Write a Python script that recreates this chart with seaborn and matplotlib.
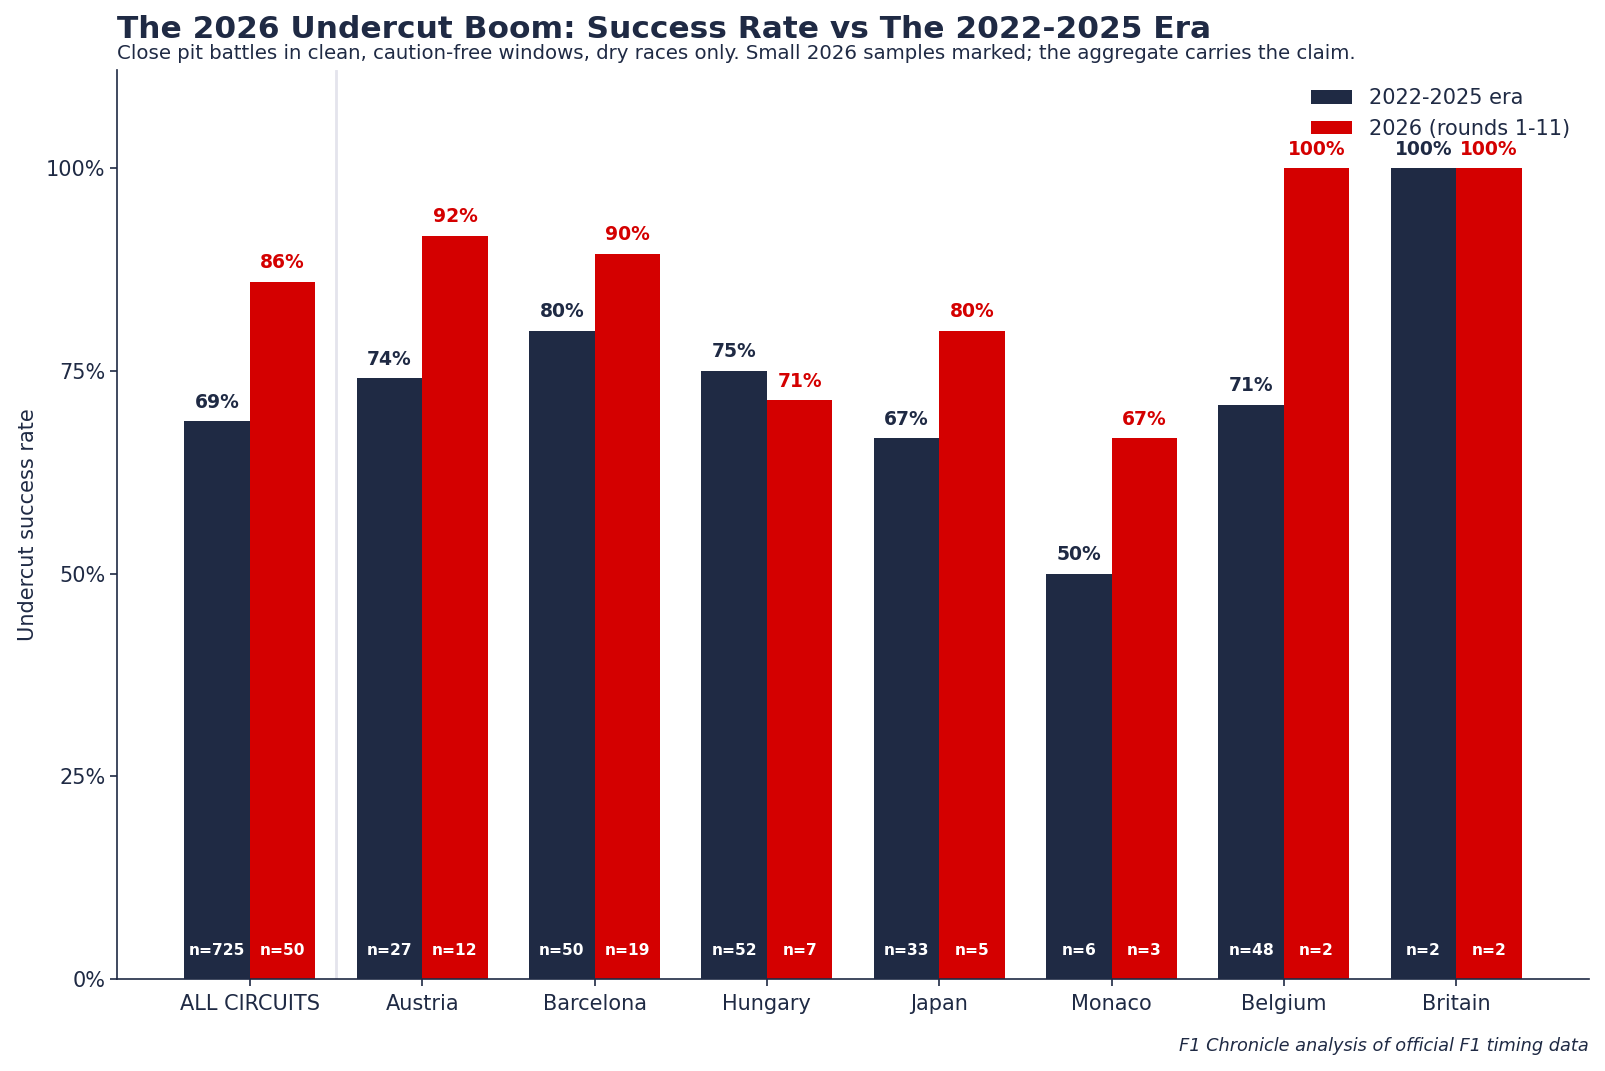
import numpy as np
import pandas as pd
import seaborn as sns
import matplotlib.pyplot as plt
from matplotlib.ticker import PercentFormatter

circuits = ['ALL CIRCUITS', 'Austria', 'Barcelona', 'Hungary', 'Japan', 'Monaco', 'Belgium', 'Britain']
era_rate = [0.688, 0.741, 0.800, 0.750, 0.667, 0.500, 0.708, 1.000]
new_rate = [0.860, 0.917, 0.895, 0.714, 0.800, 0.667, 1.000, 1.000]
era_n = [725, 27, 50, 52, 33, 6, 48, 2]
new_n = [50, 12, 19, 7, 5, 3, 2, 2]
series = ['2022-2025 era', '2026 (rounds 1-11)']

NAVY = '#1f2a44'
RED = '#d40000'

sns.set_theme(style='white')
plt.rcParams['font.family'] = ['DejaVu Sans']
plt.rcParams['text.color'] = NAVY
plt.rcParams['axes.labelcolor'] = NAVY
plt.rcParams['xtick.color'] = NAVY
plt.rcParams['ytick.color'] = NAVY

df = pd.DataFrame({
    'circuit': circuits * 2,
    'rate': era_rate + new_rate,
    'n': era_n + new_n,
    'series': [series[0]] * len(circuits) + [series[1]] * len(circuits),
})

fig = plt.figure(figsize=(16.05, 10.71), dpi=100)
ax = fig.add_axes([0.073, 0.086, 0.917, 0.849])

sns.barplot(data=df, x='circuit', y='rate', hue='series', order=circuits,
            hue_order=series, palette=[NAVY, RED], width=0.76, gap=0,
            saturation=1, ax=ax, errorbar=None, linewidth=0, edgecolor='none')

ax.set_xlim(-0.77, len(circuits) - 0.23)
ax.set_ylim(0, 1.122)
ax.set_yticks([0, 0.25, 0.5, 0.75, 1.0])
ax.yaxis.set_major_formatter(PercentFormatter(1.0, decimals=0))
ax.axvline(0.5, color='#e4e4ec', lw=2, zorder=0)

for cont, color, ns in zip(ax.containers, [NAVY, RED], [era_n, new_n]):
    for bar, n in zip(cont, ns):
        x = bar.get_x() + bar.get_width() / 2
        h = bar.get_height()
        ax.text(x, h + 0.012, f'{h * 100:.0f}%', ha='center', va='bottom',
                color=color, fontsize=13.5, fontweight='bold')
        ax.text(x, 0.035, f'n={n}', ha='center', va='center',
                color='white', fontsize=11.2, fontweight='bold')

for s in ['top', 'right']:
    ax.spines[s].set_visible(False)
for s in ['left', 'bottom']:
    ax.spines[s].set_color(NAVY)
    ax.spines[s].set_linewidth(1.2)
ax.tick_params(axis='both', labelsize=15, length=5, width=1.2, bottom=True, left=True)
ax.tick_params(axis='x', pad=6)
ax.set_xlabel('')
ax.set_ylabel('Undercut success rate', fontsize=15, labelpad=6)

ax.legend(loc='upper right', frameon=False, fontsize=15, handlelength=2.0,
          handleheight=0.6, bbox_to_anchor=(1.0, 1.0), borderaxespad=0.5)

fig.text(0.073, 0.972, 'The 2026 Undercut Boom: Success Rate vs The 2022-2025 Era',
         fontsize=22.5, fontweight='bold', va='center', ha='left', color=NAVY)
fig.text(0.073, 0.950, 'Close pit battles in clean, caution-free windows, dry races only. '
         'Small 2026 samples marked; the aggregate carries the claim.',
         fontsize=14.2, va='center', ha='left', color=NAVY)
fig.text(0.99, 0.023, 'F1 Chronicle analysis of official F1 timing data',
         fontsize=12.75, style='italic', va='center', ha='right', color=NAVY)

fig.savefig('out.png', dpi=100)
